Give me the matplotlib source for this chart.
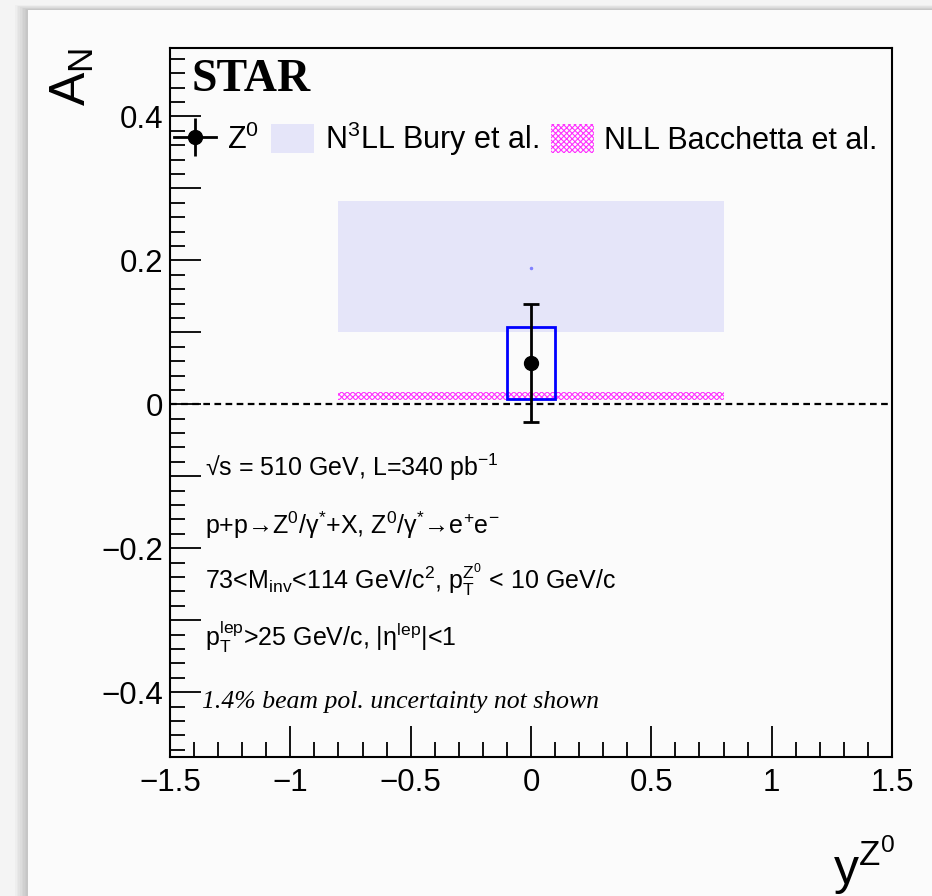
# STAR Z0 transverse single-spin asymmetry vs rapidity
import matplotlib
matplotlib.use("Agg")
import matplotlib.pyplot as plt
from matplotlib.patches import Rectangle
from matplotlib.lines import Line2D
from matplotlib.legend_handler import HandlerTuple
from matplotlib.ticker import MultipleLocator, FuncFormatter

# data
z_y = [0.0]
z_an = [0.057]
z_stat = [0.082]
z_sys_lo = [0.007]
z_sys_hi = [0.108]
z_xwidth = 0.2

band_x = [-0.8, 0.8]
bury_lo = [0.101, 0.101]
bury_hi = [0.282, 0.282]
bury_central = [0.19]
bacchetta_lo = [0.006, 0.006]
bacchetta_hi = [0.017, 0.017]

info_lines = [
    r"√s = 510 GeV, L=340 pb$^{-1}$",
    r"p+p→Z$^{0}$/γ$^{*}$+X, Z$^{0}$/γ$^{*}$→e$^{+}$e$^{-}$",
    r"73<M$_{\rm inv}$<114 GeV/c$^{2}$, p$_{\rm T}^{\rm Z^{0}}$ < 10 GeV/c",
    r"p$_{\rm T}^{\rm lep}$>25 GeV/c, |η$^{\rm lep}$|<1",
]

plt.rcParams["font.family"] = ["Liberation Sans", "DejaVu Sans"]
plt.rcParams["mathtext.fontset"] = "custom"
plt.rcParams["mathtext.rm"] = "Liberation Sans"
plt.rcParams["mathtext.it"] = "Liberation Sans:italic"
plt.rcParams["mathtext.bf"] = "Liberation Sans:bold"
plt.rcParams["hatch.linewidth"] = 0.8

fig = plt.figure(figsize=(9.32, 8.96), dpi=100)
fig.patch.set_facecolor("#f4f4f4")

# card with a soft shadow on the left / top
for i in range(8):
    off = 8 - i
    fig.patches.append(Rectangle(((28 - off * 1.6) / 932, 0), 1, 1 - (10 - off * 0.6) / 896,
                                 transform=fig.transFigure, facecolor="black",
                                 alpha=0.025, edgecolor="none", zorder=-3))
fig.patches.append(Rectangle((28 / 932, 0), 1, 1 - 10 / 896, transform=fig.transFigure,
                             facecolor="#fbfbfb", edgecolor="none", zorder=-2))

ax = fig.add_axes([170 / 932, 1 - 757 / 896, 722 / 932, 709 / 896])
ax.set_facecolor("none")
ax.set_xlim(-1.5, 1.5)
ax.set_ylim(-0.49, 0.495)

# theory bands
bury = ax.fill_between(band_x, bury_lo, bury_hi, color="#e5e5f9", lw=0, zorder=1)
ax.plot([0.0], bury_central, "o", ms=1.5, color="#8080ff", zorder=2)
bacch = ax.fill_between(band_x, bacchetta_lo, bacchetta_hi, facecolor="none",
                        edgecolor="#ff33ff", hatch="xxxxxx", lw=0, zorder=2)

ax.axhline(0, color="black", ls=(0, (3, 2)), lw=1.6, zorder=3)

# systematic box
ax.bar(z_y, [h - l for h, l in zip(z_sys_hi, z_sys_lo)], bottom=z_sys_lo,
       width=z_xwidth, fill=False, edgecolor="blue", lw=2, zorder=4)
ax.errorbar(z_y, z_an, yerr=z_stat, fmt="o", color="black", ms=10, lw=2,
            capsize=6, capthick=2, zorder=5)

# ticks, ROOT style
ax.xaxis.set_major_locator(MultipleLocator(0.5))
ax.xaxis.set_minor_locator(MultipleLocator(0.1))
ax.yaxis.set_major_locator(MultipleLocator(0.1))
ax.yaxis.set_minor_locator(MultipleLocator(0.02))
ax.yaxis.set_major_formatter(FuncFormatter(
    lambda v, p: ("0" if abs(v) < 1e-9 else f"{v:.1f}".replace("-", "\u2212"))
    if abs(round(v * 10)) % 2 == 0 else ""))
ax.xaxis.set_major_formatter(FuncFormatter(
    lambda v, p: ("0" if abs(v) < 1e-9 else f"{v:g}".replace("-", "\u2212"))))
ax.tick_params(which="both", direction="in", top=False, right=False, width=1.3,
               labelsize=22.5)
ax.tick_params(axis="x", pad=8)
ax.tick_params(axis="y", pad=5)
ax.tick_params(which="major", length=22)
ax.tick_params(which="minor", length=11)
for s in ax.spines.values():
    s.set_linewidth(1.5)

fig.text(72 / 932, 1 - 77 / 896, r"A$_{\rm N}$", rotation=90, fontsize=36,
         ha="center", va="center")
fig.text(864 / 932, 1 - 865 / 896, r"y$^{\rm Z^{0}}$", fontsize=36,
         ha="center", va="center")

ax.text(0.03, 0.955, "STAR", transform=ax.transAxes, fontsize=33,
        fontweight="bold", family="Liberation Serif", va="center")

# legend: ROOT-like marker with horizontal and vertical bars
z_handle = (Line2D([], [], color="black", lw=2),
            Line2D([], [], color="black", marker="|", ms=28, mew=2, ls="none"),
            Line2D([], [], color="black", marker="o", ms=10, ls="none"))
ax.legend([z_handle, bury, bacch],
          [r"Z$^{0}$", r"N$^{3}$LL Bury et al.", "NLL Bacchetta et al."],
          handler_map={tuple: HandlerTuple(ndivide=1, pad=0)},
          loc="center left", bbox_to_anchor=(0.005, 0.872), ncol=3,
          frameon=False, fontsize=22, handlelength=1.4, handleheight=1.05,
          handletextpad=0.35, columnspacing=0.4, borderaxespad=0, borderpad=0)

ys = [0.409, 0.327, 0.250, 0.169]
for txt, yy in zip(info_lines, ys):
    ax.text(0.048, yy, txt, transform=ax.transAxes, fontsize=18, va="center")
ax.text(0.045, 0.078, "1.4% beam pol. uncertainty not shown",
        transform=ax.transAxes, fontsize=18.5, family="Liberation Serif",
        style="italic", va="center")

fig.savefig("out.png", dpi=100, facecolor=fig.get_facecolor())
